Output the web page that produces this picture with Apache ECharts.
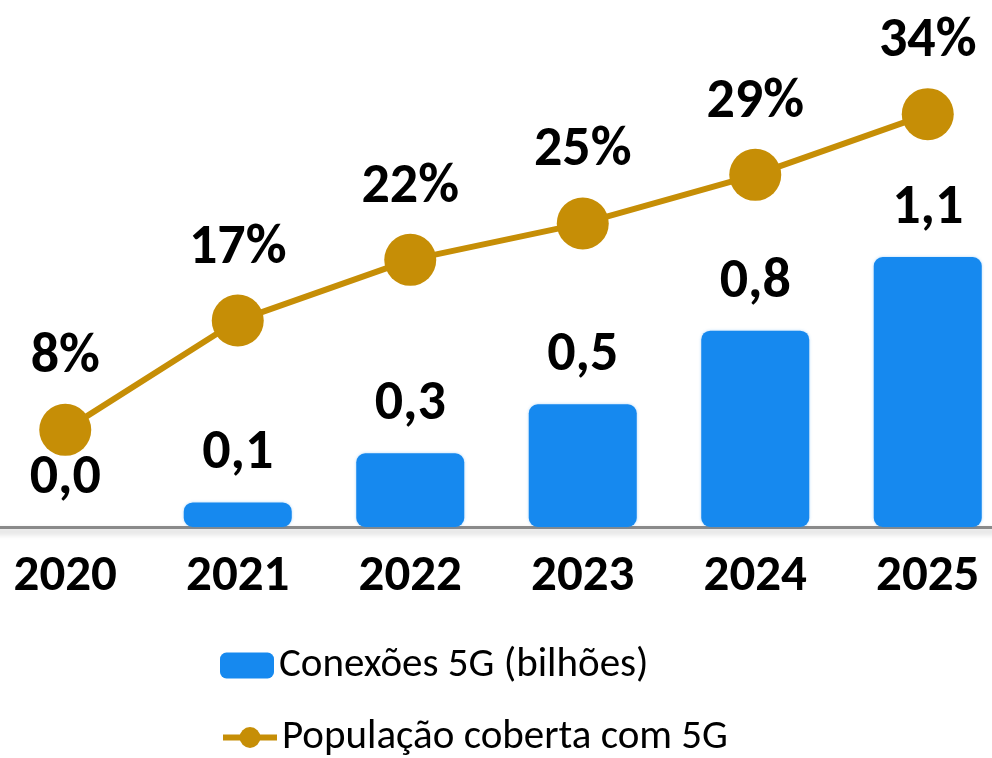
<!DOCTYPE html>
<html>
<head>
<meta charset="utf-8">
<script src="https://cdn.jsdelivr.net/npm/echarts@6/dist/echarts.min.js"></script>
<style>
  html, body { margin: 0; padding: 0; background: #fff; }
  #chart { width: 992px; height: 758px; }
</style>
</head>
<body>
<div id="chart"></div>
<script>
const years = ['2020', '2021', '2022', '2023', '2024', '2025'];
const conexoes = [0.0, 0.1, 0.3, 0.5, 0.8, 1.1];
const cobertura = [8, 17, 22, 25, 29, 34];

const FONT = 'Carlito, Lato, sans-serif';
const BLUE = '#1689EF';
const GOLD = '#C68E06';

const chart = echarts.init(document.getElementById('chart'));

const fmtComma = v => v.toFixed(1).replace('.', ',');

// one legend per row, stacked like the original
const legendBase = {
    left: 220,
    itemWidth: 54,
    itemHeight: 26,
    padding: 0,
    textStyle: { fontFamily: FONT, fontSize: 41, color: '#000' }
};

chart.setOption({
    animation: false,
    grid: { left: -21, right: -22, top: 0, bottom: 231, outerBoundsMode: 'none', containLabel: false },
    legend: [
        Object.assign({}, legendBase, {
            top: 645,
            data: [{ name: 'Conexões 5G (bilhões)', icon: 'roundRect' }]
        }),
        Object.assign({}, legendBase, {
            top: 717,
            data: [{ name: 'População coberta com 5G', lineStyle: { width: 6 } }]
        })
    ],
    xAxis: {
        type: 'category',
        data: years,
        axisTick: { show: false },
        axisLine: {
            lineStyle: {
                color: '#8a8a8a', width: 3,
                shadowColor: 'rgba(0,0,0,0.25)', shadowBlur: 6, shadowOffsetY: 4
            }
        },
        axisLabel: {
            margin: 25,
            fontFamily: FONT, fontWeight: 'bold', fontSize: 51, color: '#000'
        }
    },
    yAxis: [
        { type: 'value', min: 0, max: 2.147, show: false, splitLine: { show: false } },
        { type: 'value', min: 0, max: 43.4, show: false, splitLine: { show: false } }
    ],
    series: [
        {
            name: 'Conexões 5G (bilhões)',
            type: 'bar',
            data: conexoes,
            barWidth: 108,
            itemStyle: {
                color: BLUE,
                borderRadius: 9,
                shadowColor: 'rgba(22,137,239,0.35)',
                shadowBlur: 3
            },
            label: {
                show: true,
                position: 'top',
                distance: 20,
                formatter: p => fmtComma(p.value),
                fontFamily: FONT, fontWeight: 'bold', fontSize: 56, color: '#000'
            }
        },
        {
            name: 'População coberta com 5G',
            type: 'line',
            yAxisIndex: 1,
            data: cobertura,
            symbol: 'circle',
            symbolSize: 52,
            lineStyle: { color: GOLD, width: 6 },
            itemStyle: { color: GOLD },
            label: {
                show: true,
                position: 'top',
                distance: 18,
                formatter: p => p.value + '%',
                fontFamily: FONT, fontWeight: 'bold', fontSize: 56, color: '#000'
            }
        }
    ]
});
</script>
</body>
</html>
